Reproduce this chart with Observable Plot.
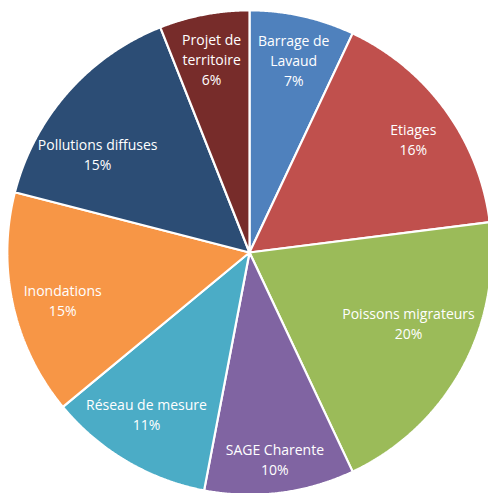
<!DOCTYPE html>
<html><head><meta charset="utf-8">
<script src="https://cdn.jsdelivr.net/npm/d3@7"></script>
<script src="https://cdn.jsdelivr.net/npm/@observablehq/plot@0.6"></script>
<style>html,body{margin:0;padding:0;background:#fff;overflow:hidden}</style>
</head><body><div id="chart"></div>
<script>
const categories = ["Barrage de Lavaud","Etiages","Poissons migrateurs","SAGE Charente","Réseau de mesure","Inondations","Pollutions diffuses","Projet de territoire"];
const labelLines = [["Barrage de","Lavaud"],["Etiages"],["Poissons migrateurs"],["SAGE Charente"],["Réseau de mesure"],["Inondations"],["Pollutions diffuses"],["Projet de","territoire"]];
const values = [7,16,20,10,11,15,15,6];
const colors = ["#4F81BD","#C0504D","#9BBB59","#8064A2","#4BACC6","#F79646","#2C4D75","#772C2A"];

const W = 488, H = 493, cx = 249, cy = 252, R = 241;
const FONT = "Open Sans", FS = 14, LH = 20;

const rows = categories.map((name, i) => ({name, value: values[i], lines: labelLines[i]}));
const arcs = d3.pie().sort(null).value(d => d.value)(rows);

// slice outlines in unit-radius coordinates
const pts = [];
for (const a of arcs) {
  const n = Math.max(2, Math.ceil((a.endAngle - a.startAngle) / 0.005));
  pts.push({name: a.data.name, x: 0, y: 0});
  for (let k = 0; k <= n; k++) {
    const t = a.startAngle + (a.endAngle - a.startAngle) * k / n;
    pts.push({name: a.data.name, x: 1.005 * Math.sin(t), y: 1.005 * Math.cos(t)});
  }
}

// "best fit" style label placement inside each slice
const ctx = document.createElement("canvas").getContext("2d");
ctx.font = `${FS}px "${FONT}"`;
const labels = arcs.map(a => {
  const lines = [...a.data.lines, a.data.value + "%"];
  const w = Math.max(...lines.map(l => ctx.measureText(l).width));
  const hw = w / 2, hh = lines.length * 8;
  const mid = (a.startAngle + a.endAngle) / 2;
  const s = Math.sin(mid), c = Math.cos(mid);
  let r = 0.84 * R;
  while (r > 0 && Math.abs(r * s) + hw > R - 15) r -= 1;
  let x = r * s, y = r * c - 5;
  const edge = Math.abs(x) + hw;
  const ymax = Math.sqrt(Math.max(0, R * R - edge * edge)) - hh;
  if (Math.abs(y) > ymax) y = Math.sign(y) * Math.max(0, ymax);
  return {text: lines.join("\n"), x: x / R, y: y / R};
});

const chart = Plot.plot({
  width: W, height: H,
  margin: 0,
  x: {domain: [-cx / R, (W - cx) / R], axis: null},
  y: {domain: [-(H - cy) / R, cy / R], axis: null},
  color: {domain: categories, range: colors},
  style: {background: "#fff"},
  marks: [
    Plot.line(pts, {x: "x", y: "y", z: "name", fill: "name", stroke: "white", strokeWidth: 2.2, strokeLinejoin: "miter", curve: "linear-closed"}),
    Plot.text(labels, {x: "x", y: "y", text: "text", fill: "white", fontSize: FS, fontFamily: FONT, lineHeight: LH / FS})
  ]
});
document.getElementById("chart").appendChild(chart);
</script>
</body></html>
